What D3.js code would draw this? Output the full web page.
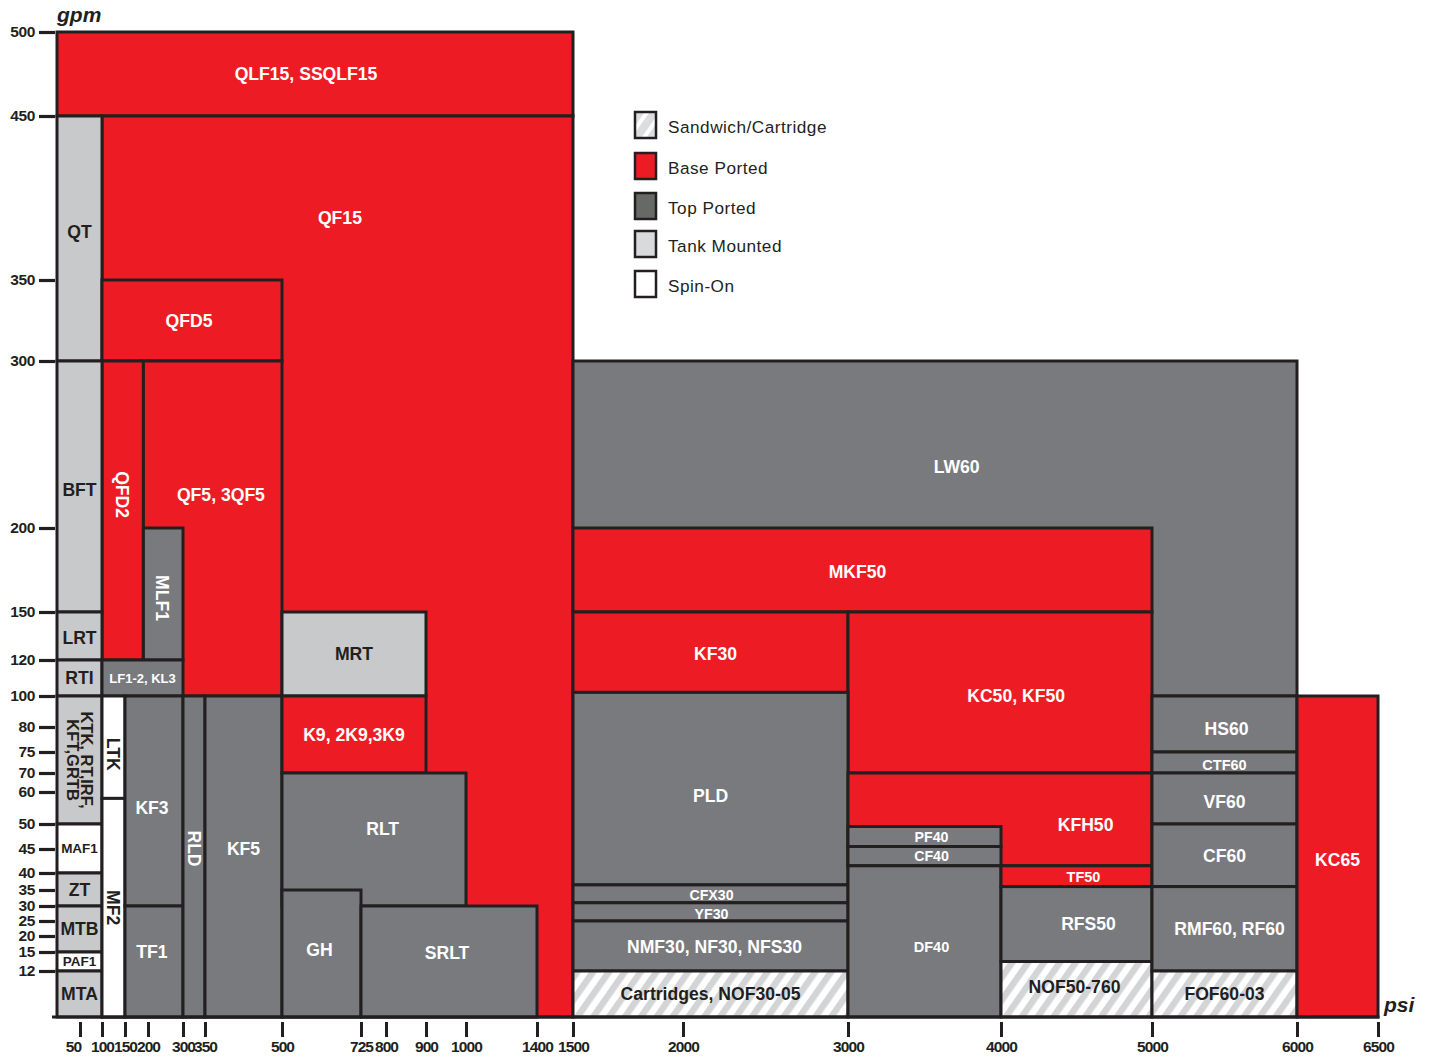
<!DOCTYPE html>
<html><head><meta charset="utf-8">
<script src="https://cdn.jsdelivr.net/npm/d3@7"></script>
<style>
body{margin:0;background:#fff;}
svg{display:block;font-family:"Liberation Sans",Arial,Helvetica,sans-serif;}
</style></head><body>
<svg id="chart" width="1432" height="1059"></svg>
<script>
// ---------------- data ----------------
const psiTicks = [50,100,150,200,300,350,500,725,800,900,1000,1400,1500,2000,3000,4000,5000,6000,6500];
const gpmTicks = [12,15,20,25,30,35,40,45,50,60,70,75,80,100,120,150,200,300,350,450,500];

const legendLabels = ["Sandwich/Cartridge","Base Ported","Top Ported","Tank Mounted","Spin-On"];
const legendTypes  = ["sandwich","base","top","tank","spin"];

const boxNames = ["QLF15, SSQLF15","QF15","QT","QFD5","QFD2","QF5, 3QF5","MLF1","BFT","LRT","RTI","LF1-2, KL3",
  "KTK, RT,IRF,|KFT,GRTB","MAF1","ZT","MTB","PAF1","MTA","LTK","MF2","KF3","TF1","RLD","KF5",
  "MRT","K9, 2K9,3K9","RLT","GH","SRLT",
  "LW60","MKF50","KF30","KC50, KF50","PLD","CFX30","YF30","NMF30, NF30, NFS30","Cartridges, NOF30-05",
  "KFH50","PF40","CF40","DF40","TF50","RFS50","NOF50-760",
  "HS60","CTF60","VF60","CF60","RMF60, RF60","FOF60-03","KC65"];
const boxPsiFrom = [0,100,0,100,100,190,190,0,0,0,100,
  0,0,0,0,0,0,100,100,150,150,300,350,
  500,500,500,500,725,
  1500,1500,1500,3000,1500,1500,1500,1500,1500,
  3000,3000,3000,3000,4000,4000,4000,
  5000,5000,5000,5000,5000,5000,6000];
const boxPsiTo = [1500,1500,100,500,190,500,300,100,100,100,300,
  100,100,100,100,100,100,150,150,300,300,350,500,
  900,900,1000,725,1400,
  6000,5000,3000,5000,3000,3000,3000,3000,3000,
  5000,4000,4000,4000,5000,5000,5000,
  6000,6000,6000,6000,6000,6000,6500];
const boxGpmFrom = [450,0,300,300,120,100,120,150,120,100,100,
  50,40,30,15,12,0,58,0,30,0,0,0,
  100,70,30,0,0,
  100,150,102,70,36.5,31,25,12,0,
  41.5,45.5,41.5,0,36,13.5,0,
  75,70,50,36,12,0,0];
const boxGpmTo = [500,450,450,350,300,300,200,300,150,120,120,
  100,50,40,30,15,12,100,58,100,30,100,100,
  150,100,70,35,30,
  300,200,150,150,102,36.5,31,25,12,
  70,49.5,45.5,41.5,41.5,36,13.5,
  100,75,70,50,36,12,100];
const boxTypes = ["base","base","tank","base","base","base","top","tank","tank","tank","top",
  "tank","spin","tank","tank","spin","tank","spin","spin","top","top","top","top",
  "tank","base","top","top","top",
  "top","base","base","base","top","top","top","top","sandwich",
  "base","top","top","top","base","top","sandwich",
  "top","top","top","top","top","sandwich","base"];

// ---------------- layout / style ----------------
const xBreaks = [0,50,100,150,200,300,350,500,725,800,900,1000,1400,1500,2000,3000,4000,5000,6000,6500];
const xPixels = [57,80,102,125,148,183,205,282,361,386,426,466,537,573,683,848,1001,1152,1297,1378];
const yBreaks = [0,12,15,20,25,30,35,40,45,50,60,70,75,80,100,120,150,200,300,350,450,500];
const yPixels = [1017,971,952,936,921,906,890,873,849,824,792,773,752,727,696,660,612,528,361,280,116,32];

const fills = {base:"#ED1C24", top:"#797A7E", tank:"#C8C9CB", spin:"#FFFFFF", sandwich:"url(#hatch)"};
const legendFills = {base:"#ED1C24", top:"#676966", tank:"#D9DADC", spin:"#FFFFFF", sandwich:"url(#hatchL)"};
const textColor = {base:"#FFFFFF", top:"#FFFFFF", tank:"#231F20", spin:"#231F20", sandwich:"#231F20"};
const INK = "#231F20";
const smallSize = {"LF1-2, KL3":13,"MAF1":13.5,"PAF1":13.5,"CFX30":14.2,"YF30":14.2,"PF40":14.2,"CF40":14.2,
  "DF40":14.5,"TF50":14.5,"CTF60":14.5};
const rotatedLabels = new Set(["QFD2","MLF1","LTK","MF2","RLD","KTK, RT,IRF,|KFT,GRTB"]);
// label anchor overrides in data units [psi, gpm] (null = box centre)
const labelAnchor = {
  "QF15":[665,388], "QFD2":[null,220], "QF5, 3QF5":[381,220], "RLT":[790,49],
  "LW60":[3710,237], "KC50, KF50":[4100,100], "KFH50":[4560,49.8]
};
// small pixel nudges [dx, dy]
const labelShift = {
  "QLF15, SSQLF15":[-9,0], "QT":[0,-7], "QFD5":[-3,0], "BFT":[0,3], "LRT":[0,2], "MLF1":[-1,4],
  "KF3":[-2,7], "TF1":[-2,-10], "RLD":[0,-8], "KF5":[0,-8], "LTK":[0,7], "GH":[-2,-4], "SRLT":[-2,-9],
  "MKF50":[-5,2], "KF30":[5,1], "PLD":[0,7], "CFX30":[1,1], "YF30":[1,2], "NMF30, NF30, NFS30":[4,1],
  "PF40":[7,0], "CF40":[7,0], "DF40":[7,5], "TF50":[7,1], "RFS50":[12,0], "NOF50-760":[-2,-3],
  "HS60":[2,5], "CTF60":[0,2], "VF60":[0,3], "RMF60, RF60":[5,0], "KC65":[0,3]
};

const x = d3.scaleLinear().domain(xBreaks).range(xPixels);
const y = d3.scaleLinear().domain(yBreaks).range(yPixels);

const svg = d3.select("#chart");
const defs = svg.append("defs");
const pat = defs.append("pattern").attr("id","hatch").attr("patternUnits","userSpaceOnUse")
  .attr("width",13).attr("height",13).attr("patternTransform","rotate(35)");
pat.append("rect").attr("width",13).attr("height",13).attr("fill","#FFFFFF");
pat.append("rect").attr("width",6.5).attr("height",13).attr("fill","#D3D4D6");
const patL = defs.append("pattern").attr("id","hatchL").attr("patternUnits","userSpaceOnUse")
  .attr("width",12).attr("height",12).attr("patternTransform","rotate(35)");
patL.append("rect").attr("width",12).attr("height",12).attr("fill","#DCDDDF");
patL.append("rect").attr("x",8).attr("width",4).attr("height",12).attr("fill","#FFFFFF");

const boxes = boxNames.map((n,i)=>({name:n, p0:boxPsiFrom[i], p1:boxPsiTo[i], g0:boxGpmFrom[i], g1:boxGpmTo[i], type:boxTypes[i]}));

const gBoxes = svg.append("g");
gBoxes.selectAll("rect").data(boxes).join("rect")
  .attr("x",d=>x(d.p0)).attr("y",d=>y(d.g1))
  .attr("width",d=>x(d.p1)-x(d.p0)).attr("height",d=>y(d.g0)-y(d.g1))
  .attr("fill",d=>fills[d.type]).attr("stroke",INK).attr("stroke-width",3);

// x axis baseline
svg.append("line").attr("x1",52).attr("x2",x(6500)+1.5).attr("y1",y(0)).attr("y2",y(0))
  .attr("stroke",INK).attr("stroke-width",3);

// labels
const gLab = svg.append("g").attr("font-weight","bold");
boxes.forEach(d=>{
  const a = labelAnchor[d.name] || [null,null];
  const s = labelShift[d.name] || [0,0];
  const cx = (a[0]!==null ? x(a[0]) : (x(d.p0)+x(d.p1))/2) + s[0];
  const cy = (a[1]!==null ? y(a[1]) : (y(d.g0)+y(d.g1))/2) + s[1];
  const fs = smallSize[d.name] || 17.6;
  const t = gLab.append("text")
    .attr("transform", rotatedLabels.has(d.name) ? `translate(${cx},${cy}) rotate(90)` : `translate(${cx},${cy})`)
    .attr("text-anchor","middle").attr("fill",textColor[d.type]).attr("font-size",fs);
  const lines = d.name.split("|");
  if(lines.length===1){
    t.attr("dy","0.36em").text(d.name);
  } else {
    t.attr("font-size",16.5);
    lines.forEach((ln,k)=>{
      t.append("tspan").attr("x",0).attr("dy", k===0 ? "-0.12em" : "0.9em").text(ln);
    });
  }
});

// axes
const xAxis = d3.axisBottom(x).tickValues(psiTicks).tickSize(15).tickPadding(4).tickFormat(d3.format("d"));
const gx = svg.append("g").attr("transform",`translate(0,${y(0)+5})`).call(xAxis);
gx.select(".domain").remove();
gx.selectAll(".tick line").attr("stroke",INK).attr("stroke-width",3);
gx.selectAll(".tick text").attr("fill",INK).attr("font-size",15.5).attr("font-weight","bold")
  .attr("font-family","'Liberation Sans',Arial,sans-serif").attr("letter-spacing","-0.9")
  .attr("dx",d=>d===50 ? -7 : 0);

const yAxis = d3.axisLeft(y).tickValues(gpmTicks).tickSize(16).tickPadding(4).tickFormat(d3.format("d"));
const gy = svg.append("g").attr("transform","translate(55,0)").call(yAxis);
gy.select(".domain").remove();
gy.selectAll(".tick line").attr("stroke",INK).attr("stroke-width",3.2);
gy.selectAll(".tick text").attr("fill",INK).attr("font-size",15.5).attr("font-weight","bold")
  .attr("font-family","'Liberation Sans',Arial,sans-serif").attr("letter-spacing","-0.4");

// unit labels
svg.append("text").attr("x",57).attr("y",22).attr("font-size",21).attr("font-weight","bold")
  .attr("font-style","italic").attr("fill",INK).text("gpm");
svg.append("text").attr("x",1384).attr("y",1012).attr("font-size",21).attr("font-weight","bold")
  .attr("font-style","italic").attr("fill",INK).text("psi");

// legend
const lg = svg.append("g").attr("transform","translate(635,112)");
const rowY = [0,41,81,119,159];
legendLabels.forEach((lab,i)=>{
  const g = lg.append("g").attr("transform",`translate(0,${rowY[i]})`);
  g.append("rect").attr("width",21).attr("height",26).attr("fill",legendFills[legendTypes[i]])
    .attr("stroke",INK).attr("stroke-width",2.5);
  g.append("text").attr("x",33).attr("y",15).attr("dy","0.36em").attr("font-size",17.2)
    .attr("letter-spacing","0.5").attr("fill",INK).text(lab);
});
</script>
</body></html>
